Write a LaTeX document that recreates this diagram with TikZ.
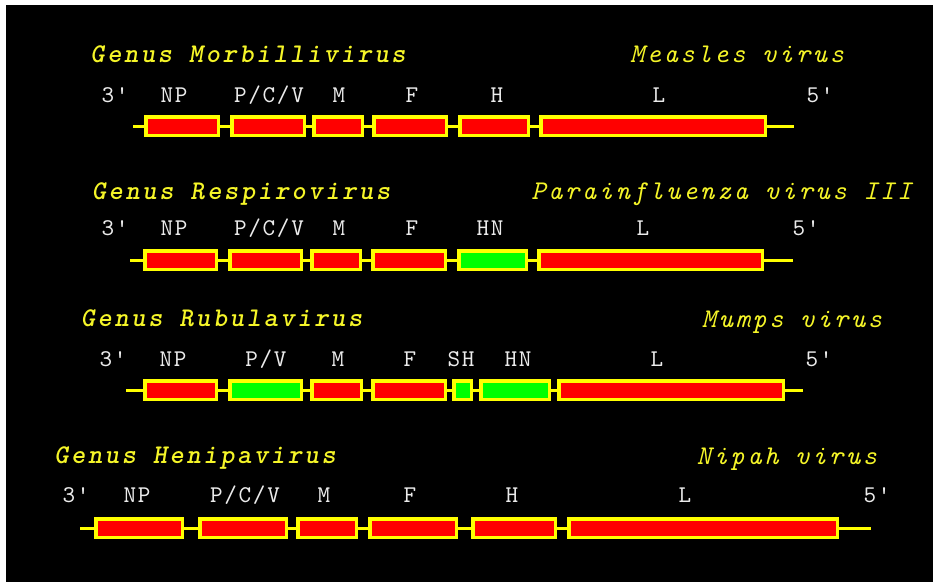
\documentclass[tikz,border=0pt]{standalone}
\usepackage{fontspec}
\newfontfamily\genusfont[LetterSpace=10]{lmmonolt10-boldoblique.otf}
\newfontfamily\speciesfont[LetterSpace=10]{lmmono10-italic.otf}
\newfontfamily\genefont[LetterSpace=7]{lmmono10-regular.otf}
\definecolor{gyellow}{RGB}{255,255,0}
\definecolor{tyellow}{RGB}{245,245,40}
\definecolor{gred}{RGB}{255,0,0}
\definecolor{ggreen}{RGB}{0,255,0}
\definecolor{glabel}{RGB}{235,235,235}
\tikzset{
  gene/.style={draw=gyellow, line width=3.5pt, inner sep=0pt, minimum height=18.5pt},
  redgene/.style={gene, fill=gred},
  greengene/.style={gene, fill=ggreen},
  backbone/.style={gyellow, line width=3pt},
  genus/.style={anchor=base, text=tyellow, font=\genusfont\fontsize{27}{30}\selectfont},
  species/.style={anchor=base, text=tyellow, font=\speciesfont\fontsize{27}{30}\selectfont},
  genelabel/.style={anchor=base, text=glabel, font=\genefont\fontsize{24}{28}\selectfont}
}
\begin{document}
\begin{tikzpicture}[x=1pt, y=-1pt]
				\useasboundingbox (0,0) rectangle (933,582);
				\fill[black] (6,5) rectangle (933,582);
				
				% Morbillivirus
				\node[genus] (t1) at (248,62) {Genus Morbillivirus};
				\node[species] (v1) at (737,62) {Measles virus};
				\node[genelabel] (a3) at (115,102) {3'};
				\node[genelabel] (aNP) at (174,102) {NP};
				\node[genelabel] (aP) at (269,102) {P/C/V};
				\node[genelabel] (aM) at (339,102) {M};
				\node[genelabel] (aF) at (412,102) {F};
				\node[genelabel] (aH) at (497,102) {H};
				\node[genelabel] (aL) at (659,102) {L};
				\node[genelabel] (a5) at (820,102) {5'};
				\coordinate (m0) at (133,126);
				\node[redgene, minimum width=72.5pt] (m1) at (182,126) {};
				\node[redgene, minimum width=72.5pt] (m2) at (268,126) {};
				\node[redgene, minimum width=48.5pt] (m3) at (338,126) {};
				\node[redgene, minimum width=72.5pt] (m4) at (410,126) {};
				\node[redgene, minimum width=68.5pt] (m5) at (494,126) {};
				\node[redgene, minimum width=224.5pt] (m6) at (653,126) {};
				\coordinate (m7) at (794,126);
				\draw[backbone] (m0) -- (m1) -- (m2) -- (m3) -- (m4) -- (m5) -- (m6) -- (m7);
				
				% Respirovirus
				\node[genus] (t2) at (241,199) {Genus Respirovirus};
				\node[species] (v2) at (721.5,199) {Parainfluenza virus III};
				\node[genelabel] (b3) at (115,235) {3'};
				\node[genelabel] (bNP) at (174,235) {NP};
				\node[genelabel] (bP) at (269,235) {P/C/V};
				\node[genelabel] (bM) at (339,235) {M};
				\node[genelabel] (bF) at (412,235) {F};
				\node[genelabel] (bHN) at (490,235) {HN};
				\node[genelabel] (bL) at (643,235) {L};
				\node[genelabel] (b5) at (806,235) {5'};
				\coordinate (r0) at (130,260);
				\node[redgene, minimum width=71.5pt] (r1) at (180.5,260) {};
				\node[redgene, minimum width=71.5pt] (r2) at (265.5,260) {};
				\node[redgene, minimum width=48.5pt] (r3) at (336,260) {};
				\node[redgene, minimum width=72.5pt] (r4) at (409,260) {};
				\node[greengene, minimum width=67.5pt] (r5) at (492.5,260) {};
				\node[redgene, minimum width=223.5pt] (r6) at (650.5,260) {};
				\coordinate (r7) at (793,260);
				\draw[backbone] (r0) -- (r1) -- (r2) -- (r3) -- (r4) -- (r5) -- (r6) -- (r7);
				
				% Rubulavirus
				\node[genus] (t3) at (221.5,326) {Genus Rubulavirus};
				\node[species] (v3) at (792,327) {Mumps virus};
				\node[genelabel] (c3) at (113,366) {3'};
				\node[genelabel] (cNP) at (173,366) {NP};
				\node[genelabel] (cP) at (266,366) {P/V};
				\node[genelabel] (cM) at (338,366) {M};
				\node[genelabel] (cF) at (410,366) {F};
				\node[genelabel] (cSH) at (461,366) {SH};
				\node[genelabel] (cHN) at (518,366) {HN};
				\node[genelabel] (cL) at (657,366) {L};
				\node[genelabel] (c5) at (819,366) {5'};
				\coordinate (u0) at (126,390);
				\node[redgene, minimum width=71.5pt] (u1) at (180.5,390) {};
				\node[greengene, minimum width=71.5pt] (u2) at (265.5,390) {};
				\node[redgene, minimum width=49.5pt] (u3) at (336.5,390) {};
				\node[redgene, minimum width=72.5pt] (u4) at (409,390) {};
				\node[greengene, minimum width=17.5pt] (u5) at (462.5,390) {};
				\node[greengene, minimum width=68.5pt] (u6) at (515,390) {};
				\node[redgene, minimum width=224.5pt] (u7) at (671,390) {};
				\coordinate (u8) at (803,390);
				\draw[backbone] (u0) -- (u1) -- (u2) -- (u3) -- (u4) -- (u5) -- (u6) -- (u7) -- (u8);
				
				% Henipavirus
				\node[genus] (t4) at (195,463) {Genus Henipavirus};
				\node[species] (v4) at (787,464) {Nipah virus};
				\node[genelabel] (d3) at (76,502) {3'};
				\node[genelabel] (dNP) at (137,502) {NP};
				\node[genelabel] (dP) at (245,502) {P/C/V};
				\node[genelabel] (dM) at (324,502) {M};
				\node[genelabel] (dF) at (410,502) {F};
				\node[genelabel] (dH) at (512,502) {H};
				\node[genelabel] (dL) at (685,502) {L};
				\node[genelabel] (d5) at (877,502) {5'};
				\coordinate (h0) at (80,528);
				\node[redgene, minimum width=86.5pt] (h1) at (139,528) {};
				\node[redgene, minimum width=86.5pt] (h2) at (243,528) {};
				\node[redgene, minimum width=58.5pt] (h3) at (327,528) {};
				\node[redgene, minimum width=86.5pt] (h4) at (413,528) {};
				\node[redgene, minimum width=82.5pt] (h5) at (514,528) {};
				\node[redgene, minimum width=268.5pt] (h6) at (703,528) {};
				\coordinate (h7) at (871,528);
				\draw[backbone] (h0) -- (h1) -- (h2) -- (h3) -- (h4) -- (h5) -- (h6) -- (h7);
\end{tikzpicture}
\end{document}
